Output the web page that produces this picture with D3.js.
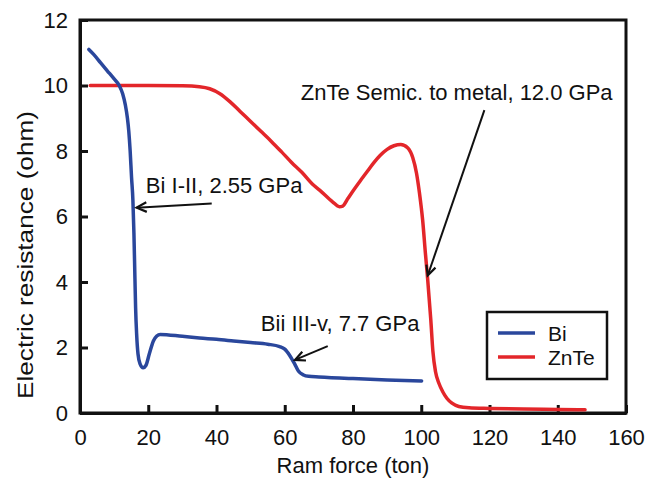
<!DOCTYPE html>
<html>
<head>
<meta charset="utf-8">
<script src="https://cdn.jsdelivr.net/npm/d3@7"></script>
<style>
  body { margin: 0; background: #fff; }
  svg { font-family: "Liberation Sans", Arial, sans-serif; }
</style>
</head>
<body>
<svg width="657" height="479"></svg>
<script>
// values
var biX = [2.6, 4, 6, 8, 10, 11.5, 12.5, 13.3, 13.9, 14.3, 14.7, 15.1, 15.5, 15.8, 16.1, 16.3, 16.6, 17.0, 17.6, 18.5, 19.3, 20.3, 21.5, 22.5, 23.5, 30, 35, 40, 45, 50, 55, 58.5, 60, 61.5, 62.9, 64, 65.5, 67, 70, 80, 90, 100.1];
var biY = [11.1, 10.95, 10.7, 10.45, 10.2, 10.0, 9.75, 9.4, 9.0, 8.6, 8.0, 7.2, 6.5, 5.5, 4.1, 3.2, 2.4, 1.8, 1.5, 1.38, 1.45, 1.8, 2.2, 2.35, 2.4, 2.34, 2.29, 2.25, 2.2, 2.15, 2.1, 2.03, 1.95, 1.75, 1.5, 1.28, 1.16, 1.12, 1.1, 1.05, 1.01, 0.98];

var znteX = [3, 10, 20, 30, 35, 38, 41, 44, 47, 50, 53, 56, 59, 62, 65, 68, 70.3, 74, 76, 77, 78.5, 80, 82, 84, 86, 88, 90, 92, 94, 96, 97.5, 98.6, 99.5, 100.4, 101.2, 101.9, 102.8, 103.4, 104.2, 105.2, 106.3, 107.5, 109, 111, 114, 120, 130, 140, 148];
var znteY = [10.0, 10.0, 10.0, 9.99, 9.96, 9.9, 9.75, 9.5, 9.2, 8.9, 8.6, 8.3, 7.98, 7.65, 7.35, 7.0, 6.8, 6.45, 6.3, 6.32, 6.55, 6.78, 7.07, 7.35, 7.63, 7.87, 8.05, 8.16, 8.2, 8.1, 7.8, 7.33, 6.7, 5.9, 4.9, 4.06, 2.84, 1.9, 1.25, 0.9, 0.65, 0.45, 0.3, 0.2, 0.16, 0.14, 0.12, 0.11, 0.1];

var xTicks = [0, 20, 40, 60, 80, 100, 120, 140, 160];
var yTicks = [0, 2, 4, 6, 8, 10, 12];

var seriesNames = ["Bi", "ZnTe"];
var seriesColors = ["#2a479c", "#e3262a"];

var notes = [
  { text: "Bi I-II, 2.55 GPa", tx: 19.3, ty: 6.73, fromX: 38.6, fromY: 6.4, toX: 16.6, toY: 6.27 },
  { text: "ZnTe Semic. to metal, 12.0 GPa", tx: 64.7, ty: 9.56, fromX: 118.5, fromY: 9.25, toX: 101.9, toY: 4.2 },
  { text: "Bii III-v, 7.7 GPa", tx: 53, ty: 2.5, fromX: 72.6, fromY: 2.04, toX: 63, toY: 1.62 }
];

var svg = d3.select("svg"),
    plotLeft = 80, plotRight = 626, plotTop = 20, plotBottom = 413;

var x = d3.scaleLinear().domain([0, 160]).range([plotLeft, plotRight]);
var y = d3.scaleLinear().domain([0, 12]).range([plotBottom, plotTop]);

// frame
svg.append("rect")
    .attr("x", plotLeft).attr("y", plotTop)
    .attr("width", plotRight - plotLeft).attr("height", plotBottom - plotTop)
    .attr("fill", "none").attr("stroke", "#111").attr("stroke-width", 3);

var xAxis = svg.append("g")
    .attr("transform", "translate(0," + plotBottom + ")")
    .call(d3.axisBottom(x).tickValues(xTicks).tickSize(-8).tickSizeOuter(0).tickPadding(16));

var yAxis = svg.append("g")
    .attr("transform", "translate(" + plotLeft + ",0)")
    .call(d3.axisLeft(y).tickValues(yTicks).tickSize(-8).tickSizeOuter(0).tickPadding(12));

[xAxis, yAxis].forEach(function (a) {
    a.select(".domain").attr("stroke", "#111").attr("stroke-width", 3);
    a.selectAll(".tick line").attr("stroke", "#111").attr("stroke-width", 3);
    a.selectAll(".tick text")
        .attr("fill", "#111")
        .style("font-size", "22px")
        .style("font-family", "'Liberation Sans', Arial, sans-serif");
});

// axis titles
svg.append("text")
    .attr("x", (plotLeft + plotRight) / 2).attr("y", 473)
    .attr("text-anchor", "middle")
    .style("font-size", "22px").attr("fill", "#111")
    .text("Ram force (ton)");

svg.append("text")
    .attr("transform", "translate(33,255) rotate(-90)")
    .attr("text-anchor", "middle")
    .style("font-size", "22px").attr("fill", "#111")
    .attr("textLength", 288).attr("lengthAdjust", "spacingAndGlyphs")
    .text("Electric resistance (ohm)");

// curves
var line = d3.line()
    .x(function (d) { return x(d[0]); })
    .y(function (d) { return y(d[1]); })
    .curve(d3.curveMonotoneX);

var biData = biX.map(function (v, i) { return [v, biY[i]]; });
var znteData = znteX.map(function (v, i) { return [v, znteY[i]]; });

svg.append("path")
    .datum(znteData)
    .attr("d", line)
    .attr("fill", "none")
    .attr("stroke", seriesColors[1])
    .attr("stroke-width", 3.5)
    .attr("stroke-linecap", "round");

svg.append("path")
    .datum(biData)
    .attr("d", line)
    .attr("fill", "none")
    .attr("stroke", seriesColors[0])
    .attr("stroke-width", 3.5)
    .attr("stroke-linecap", "round");

// annotations with arrows
var arrows = svg.append("g");
notes.forEach(function (n) {
    var x1 = x(n.fromX), y1 = y(n.fromY), x2 = x(n.toX), y2 = y(n.toY);
    arrows.append("line")
        .attr("x1", x1).attr("y1", y1).attr("x2", x2).attr("y2", y2)
        .attr("stroke", "#111").attr("stroke-width", 2);
    var ang = Math.atan2(y2 - y1, x2 - x1), len = 11, spread = 0.45;
    var head = [
        [x2 - len * Math.cos(ang - spread), y2 - len * Math.sin(ang - spread)],
        [x2, y2],
        [x2 - len * Math.cos(ang + spread), y2 - len * Math.sin(ang + spread)]
    ];
    arrows.append("path")
        .attr("d", d3.line()(head))
        .attr("fill", "none").attr("stroke", "#111").attr("stroke-width", 2.2);
    arrows.append("text")
        .attr("x", x(n.tx)).attr("y", y(n.ty))
        .style("font-size", "22px").attr("fill", "#111")
        .text(n.text);
});

// legend
var lg = svg.append("g");
lg.append("rect")
    .attr("x", 487).attr("y", 312).attr("width", 120).attr("height", 67)
    .attr("fill", "#fff").attr("stroke", "#111").attr("stroke-width", 2.5);
seriesNames.forEach(function (name, i) {
    var yy = 333 + i * 24;
    lg.append("line")
        .attr("x1", 498).attr("x2", 535).attr("y1", yy).attr("y2", yy)
        .attr("stroke", seriesColors[i]).attr("stroke-width", 3.5);
    lg.append("text")
        .attr("x", 548).attr("y", yy + 8)
        .style("font-size", "21px").attr("fill", "#111")
        .text(name);
});
</script>
</body>
</html>
